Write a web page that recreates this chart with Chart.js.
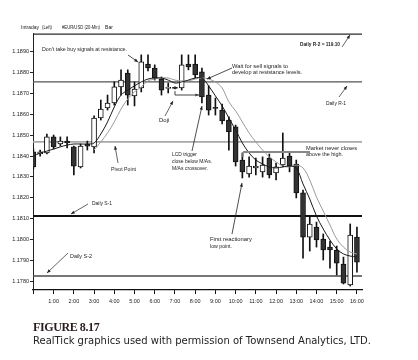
<!DOCTYPE html>
<html>
<head>
<meta charset="utf-8">
<script src="https://cdn.jsdelivr.net/npm/chart.js@4.4.0/dist/chart.umd.min.js"></script>
<style>
  html, body { margin: 0; padding: 0; background: #fff; }
  #wrap { position: relative; width: 418px; height: 360px; overflow: hidden; }
  #chart { position: absolute; left: 0; top: 0; }
  .fig { position: absolute; left: 33px; top: 321px; font: bold 12px/12px 'Liberation Serif', serif; letter-spacing: -0.4px; color: #2a1c1c; white-space: nowrap; }
  .cap { position: absolute; left: 33px; top: 336px; font: 10px/10px 'DejaVu Sans', sans-serif; color: #222; white-space: nowrap; }
</style>
</head>
<body>
<div id="wrap">
  <canvas id="chart" width="418" height="360"></canvas>
  <div class="fig">FIGURE 8.17</div>
  <div class="cap">RealTick graphics used with permission of Townsend Analytics, LTD.</div>
</div>
<script>
document.addEventListener('DOMContentLoaded', function () {

  // 20 minute bars, EUR/USD
  var times = ['0:00','0:20','0:40','1:00','1:20','1:40','2:00','2:20','2:40','3:00',
    '3:20','3:40','4:00','4:20','4:40','5:00','5:20','5:40','6:00','6:20',
    '6:40','7:00','7:20','7:40','8:00','8:20','8:40','9:00','9:20','9:40',
    '10:00','10:20','10:40','11:00','11:20','11:40','12:00','12:20','12:40','13:00',
    '13:20','13:40','14:00','14:20','14:40','15:00','15:20','15:40','16:00'];

  var opens = [1.18420, 1.18410, 1.18415, 1.18492, 1.18458, 1.18472, 1.18444, 1.18348, 1.18458, 1.18444,
    1.18583, 1.18631, 1.18655, 1.18732, 1.18799, 1.18689, 1.18727, 1.18842, 1.18823, 1.18770,
    1.18725, 1.18727, 1.18727, 1.18842, 1.18842, 1.18804, 1.18693, 1.18631, 1.18621, 1.18573,
    1.18540, 1.18381, 1.18314, 1.18343, 1.18324, 1.18391, 1.18319, 1.18357, 1.18400, 1.18362,
    1.18223, 1.18011, 1.18059, 1.18002, 1.17963, 1.17949, 1.17882, 1.17781, 1.18011];
  var highs = [1.18434, 1.18429, 1.18506, 1.18501, 1.18492, 1.18492, 1.18448, 1.18458, 1.18472, 1.18593,
    1.18669, 1.18693, 1.18756, 1.18814, 1.18814, 1.18756, 1.18886, 1.18886, 1.18838, 1.18780,
    1.18751, 1.18732, 1.18886, 1.18886, 1.18886, 1.18823, 1.18737, 1.18679, 1.18650, 1.18588,
    1.18549, 1.18415, 1.18396, 1.18391, 1.18396, 1.18410, 1.18367, 1.18511, 1.18420, 1.18381,
    1.18237, 1.18112, 1.18083, 1.18026, 1.17992, 1.17968, 1.17915, 1.18074, 1.18059];
  var lows = [1.18338, 1.18400, 1.18410, 1.18434, 1.18448, 1.18439, 1.18309, 1.18343, 1.18429, 1.18415,
    1.18573, 1.18621, 1.18645, 1.18693, 1.18645, 1.18641, 1.18708, 1.18809, 1.18765, 1.18693,
    1.18703, 1.18722, 1.18717, 1.18814, 1.18775, 1.18655, 1.18597, 1.18597, 1.18554, 1.18429,
    1.18352, 1.18295, 1.18299, 1.18309, 1.18299, 1.18295, 1.18285, 1.18348, 1.18324, 1.18199,
    1.17910, 1.17944, 1.17963, 1.17901, 1.17862, 1.17829, 1.17786, 1.17776, 1.17843];
  var closes = [1.18348, 1.18420, 1.18492, 1.18444, 1.18472, 1.18463, 1.18352, 1.18448, 1.18448, 1.18583,
    1.18626, 1.18655, 1.18732, 1.18765, 1.18693, 1.18722, 1.18852, 1.18823, 1.18775, 1.18717,
    1.18729, 1.18725, 1.18838, 1.18828, 1.18790, 1.18684, 1.18621, 1.18629, 1.18569, 1.18516,
    1.18372, 1.18324, 1.18352, 1.18352, 1.18357, 1.18309, 1.18348, 1.18391, 1.18352, 1.18223,
    1.18011, 1.18074, 1.17997, 1.17949, 1.17949, 1.17886, 1.17790, 1.18021, 1.17891];

  // moving averages
  var maFast = [1.18400, 1.18415, 1.18424, 1.18434, 1.18444, 1.18453, 1.18458, 1.18458, 1.18458, 1.18463,
    1.18506, 1.18564, 1.18636, 1.18693, 1.18717, 1.18737, 1.18756, 1.18770, 1.18775, 1.18775,
    1.18765, 1.18751, 1.18756, 1.18765, 1.18775, 1.18775, 1.18737, 1.18689, 1.18641, 1.18583,
    1.18525, 1.18463, 1.18415, 1.18381, 1.18362, 1.18348, 1.18343, 1.18348, 1.18352, 1.18343,
    1.18266, 1.18194, 1.18112, 1.18050, 1.17997, 1.17954, 1.17930, 1.17920, 1.17915];
  var maSlow = [null, null, null, null, null, null, null, null, null, 1.18429,
    1.18468, 1.18511, 1.18564, 1.18626, 1.18674, 1.18708, 1.18732, 1.18761, 1.18770, 1.18775,
    1.18775, 1.18765, 1.18761, 1.18761, 1.18770, 1.18775, 1.18770, 1.18756, 1.18727, 1.18660,
    1.18617, 1.18564, 1.18511, 1.18468, 1.18429, 1.18396, 1.18372, 1.18352, 1.18348, 1.18357,
    1.18343, 1.18285, 1.18203, 1.18136, 1.18069, 1.18002, 1.17963, 1.17939, 1.17930];

  // daily pivot levels: R-2, R-1, Pivot, S-1, S-2
  var levelValues = [1.18986, 1.18756, 1.18468, 1.18112, 1.17824];
  var levelColors = ['#2a2a2a', '#555555', '#a8a8a8', '#111111', '#4a4a4a'];
  var levelWidths = [1.3, 1.3, 1.8, 2, 1.6];

  var xMin = -0.02, xMax = 16.25;

  function toHours(s) {
    var p = s.split(':');
    return parseInt(p[0], 10) + parseInt(p[1], 10) / 60;
  }
  var hrs = times.map(toHours);

  var tickFont = { family: 'Liberation Sans', size: 5.5 };

  var datasets = [];
  datasets.push({
    type: 'line', label: 'MA fast',
    data: hrs.map(function (h, i) { return { x: h, y: maFast[i] }; }),
    borderColor: '#1a1a1a', borderWidth: 1, pointRadius: 0, tension: 0.35, order: 0
  });
  datasets.push({
    type: 'line', label: 'MA slow',
    data: hrs.map(function (h, i) { return { x: h, y: maSlow[i] }; }),
    borderColor: '#9a9a9a', borderWidth: 1, pointRadius: 0, tension: 0.35, order: 1
  });
  datasets.push({
    type: 'bar', label: 'Bodies',
    data: hrs.map(function (h, i) { return { x: h, y: [opens[i], closes[i]] }; }),
    backgroundColor: opens.map(function (o, i) { return closes[i] >= o ? '#ffffff' : '#333333'; }),
    borderColor: '#111', borderWidth: 1, borderSkipped: false,
    barThickness: 5, minBarLength: 1, grouped: false, order: 2
  });
  datasets.push({
    type: 'bar', label: 'Wicks',
    data: hrs.map(function (h, i) { return { x: h, y: [lows[i], highs[i]] }; }),
    backgroundColor: '#111', barThickness: 1, grouped: false, order: 3
  });
  levelValues.forEach(function (v, k) {
    datasets.push({
      type: 'line', label: 'level' + k,
      data: [{ x: xMin, y: v }, { x: xMax, y: v }],
      borderColor: levelColors[k], borderWidth: levelWidths[k], pointRadius: 0, order: 4
    });
  });

  // annotation texts [text, x, y, max width, bold]
  var notes = [
    ['Intraday', 21, 27, 18], ['(Left)', 42, 27, 10], ['#EUR/USD (20-Min)', 62, 27, 38], ['Bar', 105, 27, 8],
    ["Don't take buy signals at resistance.", 42, 49, 85],
    ['Wait for sell signals to', 232, 66, 56], ['develop at resistance levels.', 232, 72, 70],
    ['Daily R-2 = 119.10', 300, 44, 40, true],
    ['Daily R-1', 326, 103, 20],
    ['Doji', 159, 120, 11],
    ['Pivot Point', 111, 169, 25],
    ['LCD trigger', 172, 154, 25], ['close below M/As.', 172, 161, 40], ['M/As crossover.', 172, 168, 36],
    ['Market never closes', 306, 148, 51], ['above the high.', 306, 154, 37],
    ['Daily S-1', 92, 203, 20],
    ['Daily S-2', 70, 256, 22],
    ['First reactionary', 210, 239, 42], ['low point.', 210, 246, 22]
  ];
  // arrows [x1, y1, x2, y2, color, width, head]
  var arrows = [
    [128, 55, 138, 62, '#222', 0.8, true],
    [232, 68, 207, 79, '#222', 0.8, true],
    [342, 47, 350, 35, '#222', 0.7, true],
    [339, 97, 347, 86, '#222', 0.7, true],
    [165, 116, 173, 101, '#222', 0.7, true],
    [175, 91, 175, 95, '#444', 1, false],
    [175, 95, 199, 95, '#444', 1, true],
    [118, 163, 115, 146, '#222', 0.7, true],
    [192, 151, 202, 106, '#222', 0.8, true],
    [88, 204, 71, 214, '#222', 0.7, true],
    [68, 253, 47, 273, '#222', 0.7, true],
    [232, 234, 242, 183, '#222', 0.8, true],
    [243, 152, 243, 157, '#888', 1.5, false],
    [310, 152, 243, 152, '#888', 2, true]
  ];

  function drawArrow(ctx, a) {
    ctx.strokeStyle = a[4];
    ctx.fillStyle = a[4];
    ctx.lineWidth = a[5];
    ctx.beginPath();
    ctx.moveTo(a[0], a[1]);
    ctx.lineTo(a[2], a[3]);
    ctx.stroke();
    if (a[6]) {
      var ang = Math.atan2(a[3] - a[1], a[2] - a[0]), L = 4;
      ctx.beginPath();
      ctx.moveTo(a[2], a[3]);
      ctx.lineTo(a[2] - L * Math.cos(ang - 0.4), a[3] - L * Math.sin(ang - 0.4));
      ctx.lineTo(a[2] - L * Math.cos(ang + 0.4), a[3] - L * Math.sin(ang + 0.4));
      ctx.closePath();
      ctx.fill();
    }
  }

  var notePlugin = {
    id: 'notes',
    afterDraw: function (chart) {
      var ctx = chart.ctx;
      ctx.save();
      ctx.textBaseline = 'middle';
      notes.forEach(function (n) {
        ctx.font = (n[4] ? 'bold ' : '') + '6px "Liberation Sans", Arial, sans-serif';
        ctx.fillStyle = '#222';
        ctx.fillText(n[0], n[1], n[2], n[3]);
      });
      arrows.forEach(function (a) { drawArrow(ctx, a); });
      ctx.restore();
    }
  };

  var ctx = document.getElementById('chart').getContext('2d');
  new Chart(ctx, {
    type: 'bar',
    data: { datasets: datasets },
    plugins: [notePlugin],
    options: {
      responsive: false,
      animation: false,
      layout: { padding: { left: 0, top: 33, right: 56, bottom: 48 } },
      plugins: { legend: { display: false }, tooltip: { enabled: false } },
      scales: {
        x: {
          type: 'linear', min: xMin, max: xMax, offset: false,
          afterFit: function (s) { s.height = 22; },
          border: { display: true, color: '#111', width: 1.2 },
          grid: { drawOnChartArea: false, offset: false, tickLength: 4, color: '#111' },
          ticks: {
            stepSize: 1, includeBounds: false, autoSkip: false, maxRotation: 0, padding: 4,
            font: tickFont, color: '#222',
            callback: function (v) { return v >= 1 && v <= 16 ? v + ':00' : ''; }
          }
        },
        y: {
          min: 1.17757, max: 1.18991,
          afterFit: function (s) { s.width = 33; },
          border: { display: true, color: '#222', width: 1, dash: [1, 1] },
          grid: { drawOnChartArea: false, tickLength: 3, color: '#222' },
          ticks: {
            stepSize: 0.001, includeBounds: false, padding: 1,
            font: tickFont, color: '#222',
            callback: function (v) { return v.toFixed(4); }
          }
        }
      }
    }
  });
});
</script>
</body>
</html>
